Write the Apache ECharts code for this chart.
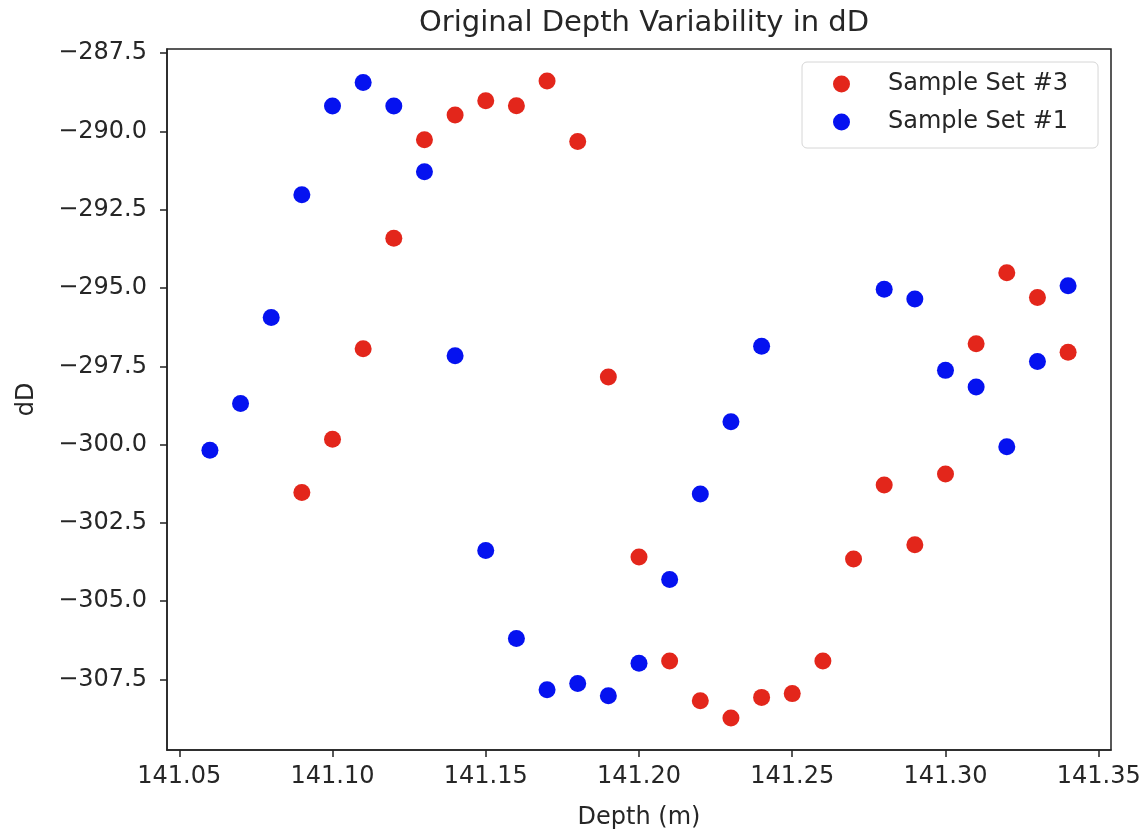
<!DOCTYPE html>
<html>
<head>
<meta charset="utf-8">
<script src="https://cdn.jsdelivr.net/npm/echarts@6/dist/echarts.min.js"></script>
<style>html,body{margin:0;padding:0;background:#fff;}#chart{width:1148px;height:835px;}</style>
</head>
<body>
<div id="chart"></div>
<script>
// Depth positions (m)
const depth3 = [141.09,141.10,141.11,141.12,141.13,141.14,141.15,141.16,141.17,141.18,141.19,141.20,141.21,141.22,141.23,141.24,141.25,141.26,141.27,141.28,141.29,141.30,141.31,141.32,141.33,141.34];
const dD3 = [-301.53,-299.83,-296.94,-293.41,-290.27,-289.48,-289.02,-289.18,-288.39,-290.32,-297.84,-303.59,-306.91,-308.18,-308.73,-308.07,-307.95,-306.91,-303.65,-301.29,-303.20,-300.94,-296.78,-294.51,-295.30,-297.05];
const depth1 = [141.06,141.07,141.08,141.09,141.10,141.11,141.12,141.13,141.14,141.15,141.16,141.17,141.18,141.19,141.20,141.21,141.22,141.23,141.24,141.28,141.29,141.30,141.31,141.32,141.33,141.34];
const dD1 = [-300.18,-298.69,-295.94,-292.02,-289.19,-288.44,-289.19,-291.29,-297.16,-303.38,-306.19,-307.83,-307.63,-308.02,-306.98,-304.31,-301.58,-299.27,-296.86,-295.04,-295.35,-297.63,-298.16,-300.07,-297.35,-294.93];
const xTicks = [141.05,141.10,141.15,141.20,141.25,141.30,141.35];
const yTicks = [-307.5,-305.0,-302.5,-300.0,-297.5,-295.0,-292.5,-290.0,-287.5];
const seriesNames = ['Sample Set #3','Sample Set #1'];

const FONT = 'DejaVu Sans';
const TXT = '#262626';
const chart = echarts.init(document.getElementById('chart'), null, {renderer:'canvas'});
const pairs = (xs, ys) => xs.map((x,i)=>[x, ys[i]]);

chart.setOption({
  animation: false,
  backgroundColor: '#ffffff',
  title: {
    text: 'Original Depth Variability in dD',
    left: 639, top: 4, textAlign: 'center',
    textStyle: {fontFamily: FONT, fontSize: 29, fontWeight: 'normal', color: TXT}
  },
  grid: {
    left: 167, right: 37, top: 49, bottom: 83,
    show: true, borderColor: '#222', borderWidth: 1.5, backgroundColor: 'transparent'
  },
  legend: {
    orient: 'vertical',
    left: 802, top: 62,
    padding: [8, 30, 12, 31],
    itemGap: 10,
    itemWidth: 17, itemHeight: 17,
    icon: 'circle',
    backgroundColor: 'rgba(255,255,255,0.85)',
    borderColor: '#d6d6d6', borderWidth: 1, borderRadius: 5,
    textStyle: {fontFamily: FONT, fontSize: 24, color: TXT, lineHeight: 28, padding: [0,0,0,33]},
    data: seriesNames
  },
  xAxis: {
    type: 'value',
    min: 141.046, max: 141.354,
    name: 'Depth (m)', nameLocation: 'middle', nameGap: 56,
    nameTextStyle: {fontFamily: FONT, fontSize: 24, color: TXT},
    axisLine: {show: true, onZero: false, lineStyle: {color: '#222', width: 1.5}},
    axisTick: {show: true, length: 7, inside: false, customValues: xTicks, lineStyle: {color: '#222', width: 1.5}},
    axisLabel: {show: true, customValues: xTicks, margin: 15, fontFamily: FONT, fontSize: 24, color: TXT,
      formatter: v => v.toFixed(2)},
    splitLine: {show: false}
  },
  yAxis: {
    type: 'value',
    min: -309.75, max: -287.37,
    name: 'dD', nameLocation: 'middle', nameGap: 128, nameRotate: 90,
    nameTextStyle: {fontFamily: FONT, fontSize: 24, color: TXT},
    axisLine: {show: true, onZero: false, lineStyle: {color: '#222', width: 1.5}},
    axisTick: {show: true, length: 7, inside: false, customValues: yTicks, lineStyle: {color: '#222', width: 1.5}},
    axisLabel: {show: true, customValues: yTicks, margin: 20, fontFamily: FONT, fontSize: 24, color: TXT,
      formatter: v => v.toFixed(1).replace('-', '\u2212')},
    splitLine: {show: false}
  },
  series: [
    {name: seriesNames[0], type: 'scatter', symbol: 'circle', symbolSize: 17,
     itemStyle: {color: '#e3261b', opacity: 1}, data: pairs(depth3, dD3)},
    {name: seriesNames[1], type: 'scatter', symbol: 'circle', symbolSize: 17,
     itemStyle: {color: '#0512f0', opacity: 1}, data: pairs(depth1, dD1)}
  ]
});
</script>
</body>
</html>
